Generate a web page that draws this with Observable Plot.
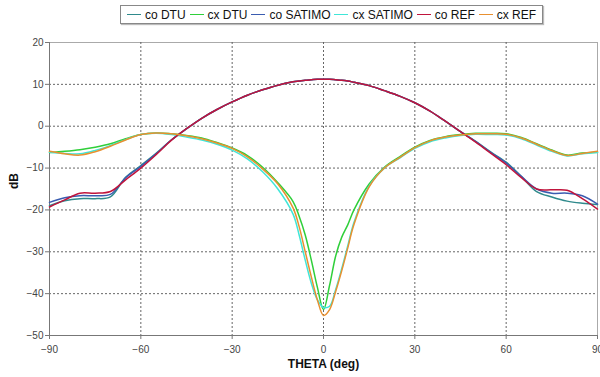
<!DOCTYPE html>
<html>
<head>
<meta charset="utf-8">
<script src="https://cdn.jsdelivr.net/npm/d3@7"></script>
<script src="https://cdn.jsdelivr.net/npm/@observablehq/plot@0.6"></script>
<style>
  html, body { margin: 0; padding: 0; background: #fff; }
  body { width: 600px; height: 377px; overflow: hidden; font-family: "Liberation Sans", Arial, sans-serif; }
  #legend { height: 32px; position: relative; }
  #legend .box { position: absolute; left: 120px; top: 5px; width: 423px; height: 19px; border: 1px solid #888;
    box-shadow: 1px 1px 1px #bbb; display: flex; align-items: center; justify-content: space-around; font-size: 12px; color: #111; padding: 0 4px; box-sizing: border-box; }
  #legend .item { display: flex; align-items: center; white-space: nowrap; }
  #legend .sw { display: inline-block; width: 14px; height: 0; border-top: 1.5px solid; margin-right: 4px; }
</style>
</head>
<body>
<div id="legend"><div class="box"></div></div>
<div id="chart"></div>
<script>
const theta = [-90,-85,-80,-75,-70,-65,-60,-55,-50,-45,-40,-35,-30,-25,-20,-15,-10,-8,-6,-4,-2,0,2,4,6,8,10,15,20,25,30,35,40,45,50,55,60,65,70,75,80,85,90];

const coDTU = [-19.0,-17.8,-17.3,-17.3,-16.9,-12.2,-9.4,-6.5,-3.3,-0.6,1.9,4.0,5.8,7.4,8.7,9.8,10.6,10.8,11.0,11.1,11.2,11.2,11.2,11.1,11.0,10.8,10.5,9.7,8.5,7.2,5.6,3.6,1.2,-1.3,-3.6,-6.2,-8.6,-12.0,-15.6,-16.9,-17.9,-18.4,-18.7];
const cxDTU = [-6.3,-6.0,-5.6,-5.0,-4.2,-3.0,-2.0,-1.6,-1.8,-2.2,-2.8,-3.9,-5.2,-7.0,-9.8,-13.5,-18.0,-21.5,-26.0,-32.0,-38.5,-43.8,-38.0,-31.0,-26.5,-23.5,-20.0,-13.8,-9.8,-7.3,-5.0,-3.4,-2.5,-2.0,-1.7,-1.7,-1.8,-2.7,-4.2,-5.7,-6.9,-6.4,-6.2];
const coSATIMO = [-18.2,-17.1,-16.6,-16.6,-16.3,-12.3,-9.6,-6.6,-3.3,-0.6,1.9,4.0,5.8,7.4,8.7,9.8,10.6,10.8,11.0,11.1,11.2,11.2,11.2,11.1,11.0,10.8,10.5,9.7,8.5,7.2,5.6,3.6,1.2,-1.3,-3.7,-6.3,-8.8,-12.0,-15.0,-16.0,-16.0,-16.6,-18.6];
const cxSATIMO = [-6.2,-6.5,-6.6,-5.8,-4.6,-3.2,-2.0,-1.7,-2.0,-2.6,-3.3,-4.3,-5.7,-7.8,-10.9,-15.0,-21.0,-26.0,-32.0,-37.5,-41.5,-43.3,-43.0,-39.0,-34.0,-28.5,-23.0,-14.3,-10.0,-7.6,-5.3,-3.7,-2.8,-2.2,-1.9,-2.0,-2.1,-3.0,-4.5,-6.0,-7.1,-6.6,-6.3];
const coREF = [-19.3,-17.6,-16.0,-16.0,-15.6,-12.8,-10.0,-6.8,-3.4,-0.6,1.9,4.0,5.8,7.4,8.7,9.8,10.6,10.8,11.0,11.1,11.2,11.2,11.2,11.1,11.0,10.8,10.5,9.7,8.5,7.2,5.6,3.6,1.2,-1.3,-3.8,-6.5,-9.2,-12.3,-15.0,-15.2,-15.3,-17.3,-19.8];
const cxREF = [-6.0,-6.6,-6.9,-6.1,-4.8,-3.3,-2.0,-1.6,-1.8,-2.3,-3.0,-4.0,-5.3,-7.3,-10.2,-13.8,-19.5,-24.0,-30.0,-36.0,-41.5,-45.2,-43.8,-39.5,-34.5,-29.0,-23.5,-14.5,-10.0,-7.5,-5.1,-3.5,-2.6,-2.1,-1.8,-1.8,-1.9,-2.8,-4.3,-5.8,-7.0,-6.5,-6.0];

const seriesNames = ["co DTU", "cx DTU", "co SATIMO", "cx SATIMO", "co REF", "cx REF"];
const seriesValues = [coDTU, cxDTU, coSATIMO, cxSATIMO, coREF, cxREF];
const seriesColors = ["#2f8a8c", "#2fcf3a", "#3a5cb0", "#3fe6d8", "#c0143c", "#e89030"];

const xTicks = [-90, -60, -30, 0, 30, 60, 90];
const yTicks = [-50, -40, -30, -20, -10, 0, 10, 20];
const xGrid = [-60, -30, 0, 30, 60];
const yGrid = [-40, -30, -20, -10, 0, 10];

// legend
const box = document.querySelector("#legend .box");
seriesNames.forEach((n, i) => {
  const it = document.createElement("span");
  it.className = "item";
  const sw = document.createElement("span");
  sw.className = "sw";
  sw.style.borderTopColor = seriesColors[i];
  it.appendChild(sw);
  it.appendChild(document.createTextNode(n));
  box.appendChild(it);
});

const lineMarks = seriesValues.map((vals, i) =>
  Plot.line(theta.map((t, j) => ({theta: t, dB: vals[j]})), {
    x: "theta", y: "dB", stroke: seriesColors[i], strokeWidth: 1.5, curve: "catmull-rom"
  })
);

const chart = Plot.plot({
  width: 600,
  height: 345,
  marginTop: 10,
  marginBottom: 42,
  marginLeft: 49,
  marginRight: 3,
  style: {fontFamily: "Liberation Sans, Arial, sans-serif", fontSize: "10px", color: "#333", background: "#fff"},
  x: {domain: [-90, 90]},
  y: {domain: [-50, 20]},
  marks: [
    Plot.frame({stroke: "#aaa"}),
    Plot.gridY(yGrid, {stroke: "#555", strokeOpacity: 0.9, strokeDasharray: "2,2"}),
    Plot.gridX(xGrid, {stroke: "#555", strokeOpacity: 0.9, strokeDasharray: "2,2"}),
    Plot.ruleX([-90], {stroke: "#777"}),
    Plot.ruleY([-50], {stroke: "#777"}),
    Plot.axisY(yTicks, {label: null, tickSize: 4, tickPadding: 2, stroke: "#777", fill: "#444"}),
    Plot.axisX(xTicks, {label: null, tickSize: 4, tickPadding: 6, stroke: "#777", fill: "#444"}),
    ...lineMarks,
    Plot.text(["THETA (deg)"], {frameAnchor: "bottom", dy: 32, fontWeight: "bold", fontSize: 12, fill: "#111"}),
    Plot.text(["dB"], {frameAnchor: "left", dx: -35, rotate: -90, fontWeight: "bold", fontSize: 12, fill: "#111"})
  ]
});
document.getElementById("chart").appendChild(chart);
</script>
</body>
</html>
